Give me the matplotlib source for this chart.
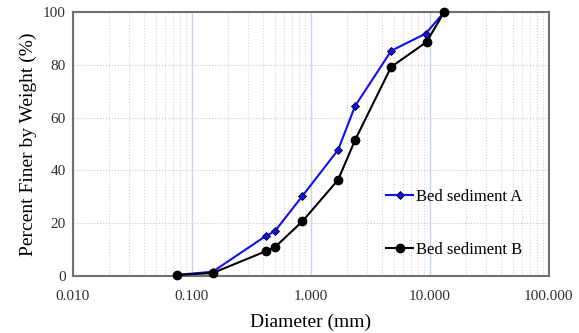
import matplotlib
matplotlib.use("Agg")
import matplotlib.pyplot as plt
from matplotlib.ticker import FixedLocator, LogLocator, NullFormatter, FuncFormatter

plt.rcParams['font.family'] = ['Liberation Serif', 'DejaVu Serif']

diam_a = [0.075, 0.15, 0.42, 0.50, 0.85, 1.70, 2.36, 4.75, 9.25, 13.2]
finer_a = [0.3, 1.5, 15.1, 16.9, 30.2, 47.8, 64.4, 85.4, 91.9, 100.0]
diam_b = [0.075, 0.15, 0.42, 0.50, 0.85, 1.70, 2.36, 4.75, 9.40, 13.2]
finer_b = [0.3, 1.0, 9.3, 10.8, 20.6, 36.4, 51.5, 79.3, 88.7, 100.0]
label_a = "Bed sediment A"
label_b = "Bed sediment B"
x_ticks = [0.01, 0.1, 1, 10, 100]
y_ticks = [0, 20, 40, 60, 80, 100]

fig = plt.figure(figsize=(5.79, 3.33), dpi=100)
ax = fig.add_axes([72.7/579, 1-275.7/333, (548.7-72.7)/579, (275.7-12.3)/333])

ax.set_xscale('log')
ax.set_xlim(0.01, 100)
ax.set_ylim(0, 100)

ax.xaxis.set_major_locator(FixedLocator(x_ticks))
ax.xaxis.set_major_formatter(FuncFormatter(lambda v, p: f"{v:.3f}"))
ax.xaxis.set_minor_locator(LogLocator(base=10, subs=range(2, 10)))
ax.xaxis.set_minor_formatter(NullFormatter())
ax.yaxis.set_major_locator(FixedLocator(y_ticks))

ax.grid(True, which='major', axis='x', color='#c5d5ee', lw=1.0)
ax.grid(True, which='minor', axis='x', color='#d4d4d4', lw=0.8, ls=':')
ax.grid(True, which='major', axis='y', color='#c8c8c8', lw=0.8, ls=':')
ax.set_axisbelow(True)

ax.plot(diam_a, finer_a, color='#1010ee', lw=1.5, marker='D', ms=4,
        mfc='#1010ee', mec='black', mew=0.6, label=label_a, zorder=3, clip_on=False)
ax.plot(diam_b, finer_b, color='black', lw=1.5, marker='o', ms=6,
        label=label_b, zorder=3, clip_on=False)

for s in ax.spines.values():
    s.set_color('#707070')
    s.set_linewidth(1.5)

ax.tick_params(axis='both', which='both', length=0, labelsize=11, colors='#303030', pad=5)
ax.tick_params(axis='x', pad=10)

ax.set_xlabel("Diameter (mm)", fontsize=14, labelpad=8)
ax.set_ylabel("Percent Finer by Weight (%)", fontsize=14, labelpad=4)

leg = ax.legend(loc='lower right', bbox_to_anchor=(0.975, 0.01), frameon=False,
                fontsize=12, labelspacing=2.25, handlelength=1.6, handletextpad=0.15)

fig.savefig("out.png", dpi=100)
